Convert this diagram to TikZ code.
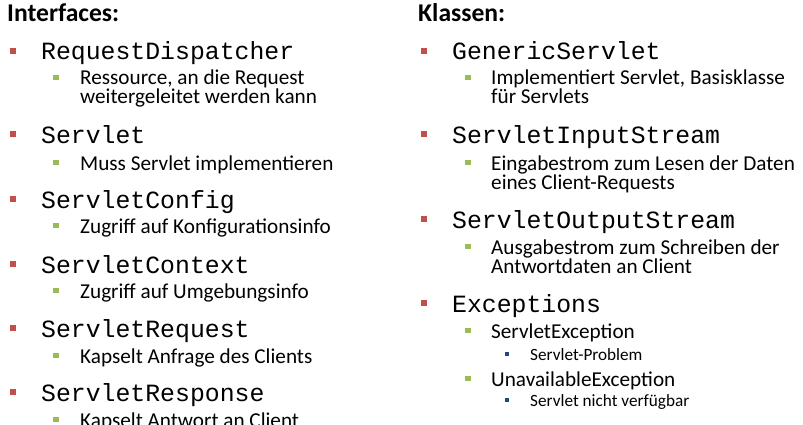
\documentclass[tikz,border=0pt]{standalone}
\usepackage{fontspec}
\setmainfont{Carlito}
\setmonofont{Liberation Mono}
\definecolor{bred}{HTML}{C0504D}
\definecolor{bgreen}{HTML}{9BBB59}
\definecolor{bblue}{HTML}{1F497D}
\begin{document}
\begin{tikzpicture}[x=1pt,y=-1pt,
  head/.style={anchor=base west,inner sep=0pt,font=\fontsize{25.6}{26}\selectfont\bfseries},
  lvlone/.style={anchor=base west,inner sep=0pt,font=\fontsize{24.8}{25}\selectfont\ttfamily},
  lvltwo/.style={anchor=base west,inner sep=0pt,text height=14pt,text depth=4pt,font=\fontsize{21.2}{21}\selectfont},
  lvlthree/.style={anchor=base west,inner sep=0pt,text height=11pt,text depth=3pt,font=\fontsize{17.2}{17}\selectfont},
  bulone/.style={fill=bred,draw=none,inner sep=0pt,minimum size=6pt},
  bultwo/.style={fill=bgreen,draw=none,inner sep=0pt,minimum size=5.5pt},
  bulthree/.style={fill=bblue,draw=none,inner sep=0pt,minimum size=4.5pt}]
\useasboundingbox[fill=white] (0,0) rectangle (803,425);
% left column
\node[head] (hl) at (7,22) {Interfaces:};
\node[bulone] (b1) at (13,51) {};
\node[lvlone] (m1) at (41,60) {RequestDispatcher};
\node[bultwo] (c1) at (56,77.5) {};
\node[lvltwo] (s1a) at (80,85) {Ressource, an die Request};
\node[lvltwo] (s1b) at (80,104) {weitergeleitet werden kann};
\node[bulone] (b2) at (13,134) {};
\node[lvlone] (m2) at (41,143) {Servlet};
\node[bultwo] (c2) at (56,162.5) {};
\node[lvltwo] (s2) at (80,170) {Muss Servlet implementieren};
\node[bulone] (b3) at (13,199) {};
\node[lvlone] (m3) at (41,208) {ServletConfig};
\node[bultwo] (c3) at (56,225.5) {};
\node[lvltwo] (s3) at (80,233) {Zugriff auf Konfigurationsinfo};
\node[bulone] (b4) at (13,264) {};
\node[lvlone] (m4) at (41,273) {ServletContext};
\node[bultwo] (c4) at (56,290.5) {};
\node[lvltwo] (s4) at (80,298) {Zugriff auf Umgebungsinfo};
\node[bulone] (b5) at (13,328) {};
\node[lvlone] (m5) at (41,337) {ServletRequest};
\node[bultwo] (c5) at (56,355.5) {};
\node[lvltwo] (s5) at (80,363) {Kapselt Anfrage des Clients};
\node[bulone] (b6) at (13,392) {};
\node[lvlone] (m6) at (41,401) {ServletResponse};
\node[bultwo] (c6) at (56,419.5) {};
\node[lvltwo] (s6) at (80,427) {Kapselt Antwort an Client};
% right column
\node[head] (hr) at (418,22) {Klassen:};
\node[bulone] (rb1) at (424,51) {};
\node[lvlone] (rm1) at (452,60) {GenericServlet};
\node[bultwo] (rc1) at (468,77.5) {};
\node[lvltwo] (rs1a) at (491,85) {Implementiert Servlet, Basisklasse};
\node[lvltwo] (rs1b) at (491,104) {für Servlets};
\node[bulone] (rb2) at (424,134) {};
\node[lvlone] (rm2) at (452,143) {ServletInputStream};
\node[bultwo] (rc2) at (468,162.5) {};
\node[lvltwo] (rs2a) at (491,170) {Eingabestrom zum Lesen der Daten};
\node[lvltwo] (rs2b) at (491,189) {eines Client-Requests};
\node[bulone] (rb3) at (424,219) {};
\node[lvlone] (rm3) at (452,228) {ServletOutputStream};
\node[bultwo] (rc3) at (468,246.5) {};
\node[lvltwo] (rs3a) at (491,254) {Ausgabestrom zum Schreiben der};
\node[lvltwo] (rs3b) at (491,273) {Antwortdaten an Client};
\node[bulone] (rb4) at (424,303) {};
\node[lvlone] (rm4) at (452,312) {Exceptions};
\node[bultwo] (rc4) at (468,330.5) {};
\node[lvltwo] (rs4) at (491,338) {ServletException};
\node[bulthree] (rd4) at (507,354) {};
\node[lvlthree] (rt4) at (530,360) {Servlet-Problem};
\node[bultwo] (rc5) at (468,378.5) {};
\node[lvltwo] (rs5) at (491,386) {UnavailableException};
\node[bulthree] (rd5) at (507,400) {};
\node[lvlthree] (rt5) at (530,406) {Servlet nicht verfügbar};
\end{tikzpicture}
\end{document}
